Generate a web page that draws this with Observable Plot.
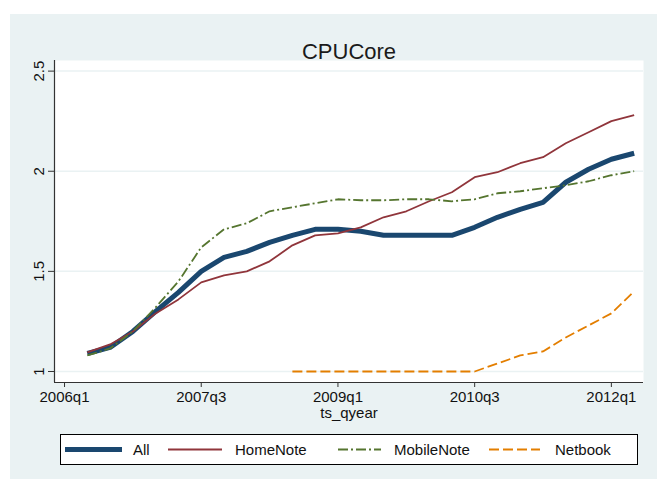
<!DOCTYPE html>
<html><head><meta charset="utf-8">
<script src="https://cdn.jsdelivr.net/npm/d3@7"></script>
<script src="https://cdn.jsdelivr.net/npm/@observablehq/plot@0.6"></script>
<style>
body{margin:0;background:#fff;}
#wrap{position:relative;width:657px;height:479px;overflow:hidden;font-family:"Liberation Sans",Arial,sans-serif;}
#bg{position:absolute;left:10px;top:14px;right:0;bottom:0;background:#EAF2F3;}
#chart{position:absolute;left:0;top:0;}
#legend{position:absolute;left:60px;top:434px;}
</style></head><body>
<div id="wrap"><div id="bg"></div><div id="chart"></div><div id="legend"></div></div>
<script>
const quarters = ["2006q2","2006q3","2006q4","2007q1","2007q2","2007q3","2007q4","2008q1","2008q2","2008q3",
  "2008q4","2009q1","2009q2","2009q3","2009q4","2010q1","2010q2","2010q3","2010q4","2011q1",
  "2011q2","2011q3","2011q4","2012q1","2012q2"];
const allVals = [1.09,1.12,1.20,1.30,1.395,1.50,1.57,1.60,1.645,1.68,1.71,1.71,1.70,1.68,1.68,1.68,1.68,1.72,1.77,1.81,1.845,1.945,2.01,2.06,2.09];
const homeNoteVals = [1.095,1.135,1.20,1.29,1.36,1.445,1.48,1.50,1.55,1.63,1.68,1.69,1.72,1.77,1.80,1.85,1.895,1.97,1.995,2.04,2.07,2.14,2.195,2.25,2.28];
const mobileNoteVals = [1.08,1.115,1.20,1.32,1.45,1.62,1.71,1.74,1.80,1.82,1.84,1.86,1.855,1.855,1.86,1.86,1.85,1.86,1.89,1.90,1.915,1.93,1.95,1.98,2.00];
const netbookVals = [null,null,null,null,null,null,null,null,null,1.00,1.00,1.00,1.00,1.00,1.00,1.00,1.00,1.00,1.04,1.08,1.10,1.17,1.23,1.29,1.40];
const seriesNames = ["All","HomeNote","MobileNote","Netbook"];
const yTicks = [1,1.5,2,2.5];
const xTickLabels = ["2006q1","2007q3","2009q1","2010q3","2012q1"];

const qnum = s => +s.slice(0,4) + (+s.slice(5)-1)/4;
const qfmt = t => { const y = Math.floor(t + 1e-9); return y + "q" + (Math.round((t - y)*4) + 1); };
const valuesBy = {All: allVals, HomeNote: homeNoteVals, MobileNote: mobileNoteVals, Netbook: netbookVals};
const data = seriesNames.flatMap(s => quarters.map((q,i) => ({series:s, t:qnum(q), v:valuesBy[s][i]})));
const styles = {
  All:{stroke:"#1A476F", strokeWidth:5, dash:null},
  HomeNote:{stroke:"#90353B", strokeWidth:1.8, dash:null},
  MobileNote:{stroke:"#55752F", strokeWidth:1.8, dash:"10,3,2,3"},
  Netbook:{stroke:"#E37E00", strokeWidth:1.8, dash:"10,4"}
};
const xDom = [2005.89, 2012.3525];
const yDom = [0.945, 2.553];
const axisColor = "#333";

const chart = Plot.plot({
  width:657, height:479,
  marginTop:60, marginLeft:54, marginRight:14, marginBottom:97,
  style:{background:"transparent", fontFamily:"'Liberation Sans', Arial, sans-serif", fontSize:"15px", color:"#111"},
  x:{domain:xDom},
  y:{domain:yDom},
  marks:[
    Plot.frame({fill:"white", stroke:null}),
    Plot.gridY(yTicks, {stroke:"#EAF2F3", strokeOpacity:1, strokeWidth:1.5}),
    ...seriesNames.map(s => Plot.line(data.filter(d => d.series === s), {
      x:"t", y:"v", stroke:styles[s].stroke, strokeWidth:styles[s].strokeWidth,
      strokeDasharray:styles[s].dash, strokeLinejoin:"round", strokeLinecap:"butt"
    })),
    Plot.ruleX([xDom[0]], {stroke:axisColor, strokeWidth:1.2}),
    Plot.ruleY([yDom[0]], {stroke:axisColor, strokeWidth:1.2}),
    Plot.axisY({ticks:yTicks, tickFormat:d => String(d), tickSize:6, tickPadding:5, tickRotate:-90, stroke:axisColor, label:null, fontSize:15}),
    Plot.axisX({ticks:xTickLabels.map(qnum), tickFormat:qfmt, tickSize:5, tickPadding:4, stroke:axisColor, label:null, fontSize:15}),
    Plot.text(["CPUCore"], {frameAnchor:"top", text:d => d, dy:-17, fontSize:22, fill:"#1a1a1a"}),
    Plot.text(["ts_qyear"], {frameAnchor:"bottom", text:d => d, dy:35, fontSize:15, fill:"#111"})
  ]
});
document.getElementById("chart").appendChild(chart);

// Legend
const lg = d3.select("#legend").append("svg").attr("width",578).attr("height",31)
  .style("font-family","'Liberation Sans', Arial, sans-serif");
lg.append("rect").attr("x",0.5).attr("y",0.5).attr("width",577).attr("height",30)
  .attr("fill","white").attr("stroke","#000").attr("stroke-width",1);
const legendItems = [
  {s:"All", x1:5, x2:62, tx:73},
  {s:"HomeNote", x1:108, x2:162, tx:175},
  {s:"MobileNote", x1:278, x2:321, tx:334},
  {s:"Netbook", x1:429, x2:480, tx:495}
];
legendItems.forEach(it => {
  const st = styles[it.s];
  lg.append("line").attr("x1",it.x1).attr("x2",it.x2).attr("y1",15.5).attr("y2",15.5)
    .attr("stroke",st.stroke).attr("stroke-width",st.strokeWidth)
    .attr("stroke-dasharray",st.dash);
  lg.append("text").attr("x",it.tx).attr("y",15.5).attr("dy","0.35em")
    .attr("font-size",15).attr("fill","#111").text(it.s);
});
</script>
</body></html>
